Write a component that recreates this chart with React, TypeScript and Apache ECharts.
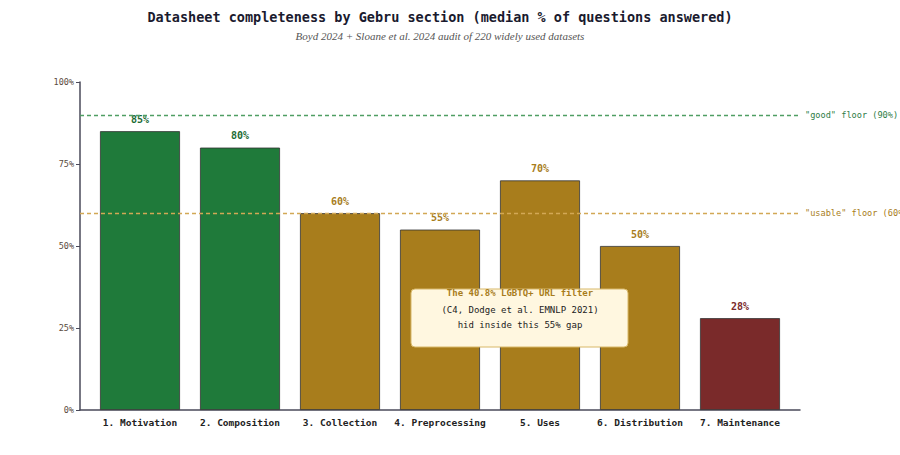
import * as echarts from 'echarts';
import { useEffect, useRef } from 'react';

const sections = [
    '1. Motivation',
    '2. Composition',
    '3. Collection',
    '4. Preprocessing',
    '5. Uses',
    '6. Distribution',
    '7. Maintenance',
];
const medianAnswered = [85, 80, 60, 55, 70, 50, 28];
const yTicks = [0, 25, 50, 75, 100];
const goodFloor = 90;
const usableFloor = 60;

const MONO = '"DejaVu Sans Mono", monospace';

const barColor = (v: number) => (v >= 80 ? '#1f7a3a' : v >= 50 ? '#a87d1c' : '#7a2a2a');
const labelColor = (v: number) => (v >= 80 ? '#1d6b34' : v >= 50 ? '#a87d1c' : '#7a2a2a');

const floorLine = (value: number, text: string, lineColor: string, textColor: string) => ({
    type: 'line',
    data: [],
    markLine: {
        silent: true,
        symbol: 'none',
        lineStyle: { color: lineColor, type: [4, 3], width: 1.3, opacity: 1 },
        label: {
            formatter: text,
            position: 'end',
            color: textColor,
            fontFamily: MONO,
            fontSize: 8.6,
            distance: 5,
        },
        data: [{ yAxis: value }],
    },
});

const App = () => {
    const chartRef = useRef(null);

    useEffect(() => {
        document.body.style.margin = '0';
        const chart = echarts.init(chartRef.current, null, { renderer: 'svg' });

        const option = {
            animation: false,
            grid: { left: 80, right: 100, top: 82, bottom: 45 },
            xAxis: {
                type: 'value',
                min: -0.6,
                max: 6.6,
                splitLine: { show: false },
                axisLine: { show: true, lineStyle: { color: '#4a4a5a', width: 1.5 } },
                axisTick: { show: false },
                axisLabel: {
                    customValues: sections.map((_, i) => i),
                    formatter: (v: number) => sections[Math.round(v)] ?? '',
                    fontFamily: MONO,
                    fontSize: 9.5,
                    fontWeight: 'bold',
                    color: '#222',
                    margin: 7,
                },
            },
            yAxis: {
                type: 'value',
                min: 0,
                max: 100,
                interval: 25,
                splitLine: { show: false },
                axisLine: { show: true, onZero: false, lineStyle: { color: '#4a4a5a', width: 1.5 } },
                axisTick: { show: true, length: 4, lineStyle: { color: '#4a4a5a' } },
                axisLabel: {
                    formatter: (v: number) => (yTicks.includes(v) ? v + '%' : ''),
                    fontFamily: MONO,
                    fontSize: 8.5,
                    color: '#5a4a40',
                    margin: 6,
                },
            },
            series: [
                {
                    type: 'bar',
                    barWidth: 80,
                    data: medianAnswered.map((v, i) => ({
                        value: [i, v],
                        itemStyle: { color: barColor(v), borderColor: '#333', borderWidth: 0.8 },
                        label: { color: labelColor(v) },
                    })),
                    label: {
                        show: true,
                        position: 'top',
                        distance: 7,
                        formatter: (p: any) => p.value[1] + '%',
                        fontFamily: MONO,
                        fontSize: 10,
                        fontWeight: 'bold',
                    },
                },
                floorLine(goodFloor, '"good" floor (90%)', '#4f9e63', '#2e7d46'),
                floorLine(usableFloor, '"usable" floor (60%)', '#d2a855', '#a87d1c'),
            ],
            graphic: [
                {
                    type: 'text',
                    x: 440,
                    y: 10,
                    style: {
                        text: 'Datasheet completeness by Gebru section (median % of questions answered)',
                        fontFamily: MONO,
                        fontSize: 13.5,
                        fontWeight: 'bold',
                        fill: '#1a1a2e',
                        textAlign: 'center',
                    },
                },
                {
                    type: 'text',
                    x: 440,
                    y: 30,
                    style: {
                        text: 'Boyd 2024 + Sloane et al. 2024 audit of 220 widely used datasets',
                        fontFamily: '"Liberation Serif", serif',
                        fontStyle: 'italic',
                        fontSize: 11,
                        fill: '#555',
                        textAlign: 'center',
                    },
                },
                {
                    type: 'rect',
                    shape: { x: 411, y: 289, width: 217, height: 58, r: 4 },
                    style: { fill: '#fff7e0', stroke: '#d8b868', lineWidth: 1 },
                    z: 100,
                },
                {
                    type: 'text',
                    x: 520,
                    y: 288,
                    z: 101,
                    style: {
                        text: 'The 40.8% LGBTQ+ URL filter',
                        fontFamily: MONO,
                        fontSize: 9,
                        fontWeight: 'bold',
                        fill: '#a87d1c',
                        textAlign: 'center',
                    },
                },
                {
                    type: 'text',
                    x: 520,
                    y: 302,
                    z: 101,
                    style: {
                        text: '(C4, Dodge et al. EMNLP 2021)\nhid inside this 55% gap',
                        fontFamily: MONO,
                        fontSize: 9,
                        lineHeight: 15,
                        fill: '#222',
                        textAlign: 'center',
                    },
                },
            ],
        };

        chart.setOption(option);

        return () => {
            chart.dispose();
        };
    }, []);

    return <div ref={chartRef} style={{ width: '900px', height: '455px' }} />;
};

export default App;
